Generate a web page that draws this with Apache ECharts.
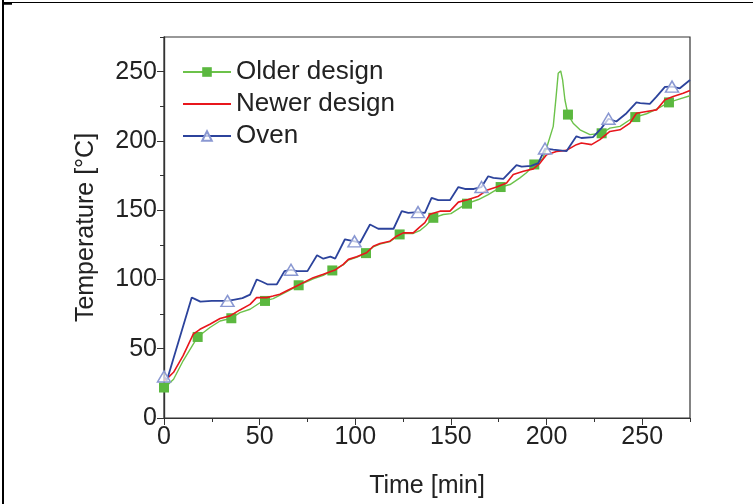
<!DOCTYPE html>
<html>
<head>
<meta charset="utf-8">
<script src="https://cdn.jsdelivr.net/npm/echarts@6/dist/echarts.min.js"></script>
<style>
html,body{margin:0;padding:0;background:#fff;}
#chart{width:753px;height:504px;}
</style>
</head>
<body>
<div id="chart"></div>
<script>
// ---- data ----
const seriesNames = ['Older design', 'Newer design', 'Oven'];

const olderTime = [0,2,5,10,17.6,24,29.3,35.2,39.7,45,50.2,52.8,57.1,64,70.4,78,83.3,88,93.7,96.4,100.7,105.6,109.4,112.9,118.1,123.2,125.1,130.3,134,137,140.8,146,150,156.5,158.4,164.4,169.5,176,180.9,186.1,189.5,193.6,198,200.5,203.5,205,206.1,207.4,208.4,209.6,211.2,213.9,217.5,222.7,228.8,233.1,238.4,243.6,246.4,252.3,257.5,264,269.7,275];
const olderTemp = [22,24,28,41.3,58.5,65.3,70,72,76,78.5,83.2,84.5,86.2,91,95.8,100.5,103,106.5,110.5,114,116,119,123.5,125.5,127.3,132.5,133.2,133.2,135.5,139,144.5,146.9,147.5,153.3,154.7,157.7,161.3,166.7,168.5,173.3,177,183,187,197,210.5,232,248.8,250.5,244,229.7,219,212.8,208,204.5,205.5,209.2,210.5,215.3,217.2,219.6,223,227.8,230.3,232.6];
const olderMarks = [0,17.6,35.2,52.8,70.4,88,105.6,123.2,140.8,158.4,176,193.6,211.2,228.8,246.4,264];

const newerTime = [0,2,5,10,15.3,18.8,24,29.3,34.5,39.7,45,48.4,53.7,57,60.6,65,69.4,72.8,78,83.3,89.4,93.7,96.4,100.7,105.9,109.4,112.9,118.1,121.6,125.1,130.3,133.8,136.4,139,144.3,149.5,153.9,159.1,164.4,168.7,173.9,179.1,182.6,187.9,193.1,196.5,200,205.2,210.4,215.6,218.2,223.5,227.9,233.1,238.4,243.6,247,252.3,257.5,261.9,266.2,271.4,275];
const newerTemp = [27,29,33,45,60.5,64,67.7,71.8,73.7,78,82,86.9,86.9,88,89.3,92.4,95.3,97.7,101.3,103.7,106.8,110.9,114.5,116.4,119.3,124,126,127.6,131.2,133.6,133.6,138,141,147,149.3,149.3,155.8,157.7,160.1,164.4,166.7,169.6,175.7,178.1,179.8,183.8,190,192.4,193.2,197.3,198.5,197.3,200.9,206.8,208,212.8,220,221.2,222.4,229.7,232,234.4,236.4];

const ovenTime = [0,1.5,14.5,16,19,25,33.2,37,41,45,48.5,51,54,59,63,66.4,69.5,75,80,83.3,87,89.5,94.6,99.6,102.5,107.7,112,120,124.3,127.7,132.8,136.4,139.9,143.4,149.5,153.9,157.3,162,166,169.5,172.2,177.4,184.3,187,192,195.7,199.2,203.5,210.4,215.6,218.2,224.3,228.7,232.4,236.5,241.8,247,249,254,257.5,261.9,265.6,269.7,275];
const ovenTemp = [30,27,87,86,84,84.5,84.5,85.5,86.5,89,100,98.5,96.5,96.5,106,107,106,106,117.5,115,116.5,115,129,127.5,126.5,139.7,136.6,136.6,149.3,148,148.6,148,158.9,157.2,157.2,166.7,165.3,165.3,166.7,174.5,173.3,172.6,182.5,181.5,182,184,194.5,193.7,192.6,203.3,202.1,202.8,209.2,216,214,220,227.8,227.3,226.8,232,239,239.2,238,244];
const ovenMarks = [0,33.2,66.4,99.6,132.8,166,199.2,232.4,265.6];

const majorTicks = [0,50,100,150,200,250];
const axisMax = 275;

// ---- build ----
function build(times, temps, marks) {
  return times.map((t, i) => {
    if (marks && marks.indexOf(t) >= 0) return [t, temps[i]];
    return { value: [t, temps[i]], symbol: 'none' };
  });
}

const FONT = 'Liberation Sans';
const axisColor = '#333';

function makeAxes(isX) {
  const pos = isX ? 'bottom' : 'left';
  const common = {
    type: 'value', min: 0, max: axisMax, position: pos, offset: 0,
    axisLine: { show: true, onZero: false, lineStyle: { color: axisColor, width: 1.2 } },
    splitLine: { show: false }
  };
  const minor = Object.assign({}, common, {
    interval: 25,
    axisTick: { show: true, inside: false, length: 4, lineStyle: { color: axisColor, width: 1 } },
    axisLabel: { show: false }
  });
  const major = Object.assign({}, common, {
    interval: 50,
    axisTick: { show: true, inside: false, length: 7, customValues: majorTicks, lineStyle: { color: axisColor, width: 1 } },
    axisLabel: {
      show: true, customValues: majorTicks, fontFamily: FONT, fontSize: 25, color: '#222',
      margin: 7
    },
    name: isX ? 'Time [min]' : 'Temperature [°C]',
    nameLocation: 'middle',
    nameGap: isX ? 56 : 65,
    nameTextStyle: { fontFamily: FONT, fontSize: 25, color: '#222' }
  });
  return [major, minor];
}

const xAxes = makeAxes(true);
const yAxes = makeAxes(false);

const chart = echarts.init(document.getElementById('chart'), null, { renderer: 'canvas' });
chart.setOption({
  animation: false,
  backgroundColor: '#fff',
  grid: { left: 164, right: 63, top: 37, bottom: 85, show: true, borderColor: axisColor, borderWidth: 1.2, backgroundColor: 'transparent' },
  xAxis: xAxes,
  yAxis: yAxes,
  legend: {
    orient: 'vertical', left: 182, top: 59, padding: 0,
    itemWidth: 48, itemHeight: 12, itemGap: 6,
    textStyle: { fontFamily: FONT, fontSize: 26, color: '#222' },
    data: [
      { name: seriesNames[0] },
      { name: seriesNames[1], itemStyle: { opacity: 0 } },
      { name: seriesNames[2] }
    ]
  },
  graphic: [
    { type: 'line', shape: { x1: 3, y1: 0, x2: 3, y2: 504 }, style: { stroke: '#000', lineWidth: 2 } },
    { type: 'line', shape: { x1: 3, y1: 2.5, x2: 753, y2: 2.5 }, style: { stroke: '#000', lineWidth: 1.2 } },
    { type: 'line', shape: { x1: 3, y1: 3.5, x2: 12, y2: 3.5 }, style: { stroke: '#000', lineWidth: 2.5 } }
  ],
  series: [
    {
      name: seriesNames[0], type: 'line', xAxisIndex: 0, yAxisIndex: 0,
      data: build(olderTime, olderTemp, olderMarks),
      showSymbol: true, showAllSymbol: true, symbol: 'rect', symbolSize: 10,
      lineStyle: { color: '#6cc24a', width: 1.4 },
      itemStyle: { color: '#5bb83f', borderWidth: 0 },
      z: 2
    },
    {
      name: seriesNames[1], type: 'line', xAxisIndex: 0, yAxisIndex: 0,
      data: build(newerTime, newerTemp, null),
      symbol: 'none', showSymbol: false,
      lineStyle: { color: '#e8161c', width: 1.6 },
      itemStyle: { color: '#e8161c' },
      z: 3
    },
    {
      name: seriesNames[2], type: 'line', xAxisIndex: 0, yAxisIndex: 0,
      data: build(ovenTime, ovenTemp, ovenMarks),
      showSymbol: true, showAllSymbol: true, symbol: 'triangle', symbolSize: [13, 11],
      lineStyle: { color: '#2c439c', width: 1.8 },
      itemStyle: { color: 'rgba(255,255,255,0.7)', borderColor: '#8a98d2', borderWidth: 1.5 },
      z: 4
    }
  ]
});
</script>
</body>
</html>
